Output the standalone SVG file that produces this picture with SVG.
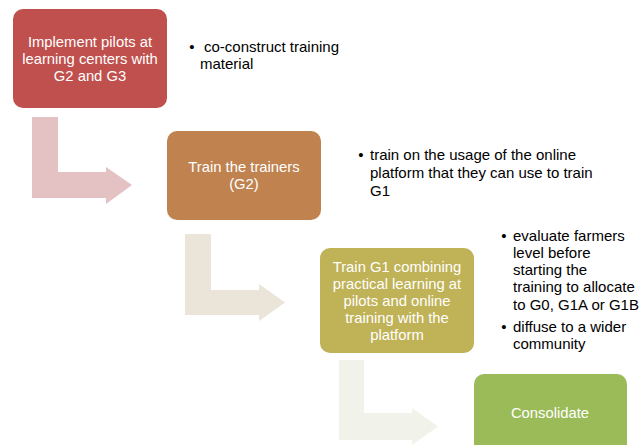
<svg xmlns="http://www.w3.org/2000/svg" width="644" height="445" viewBox="0 0 644 445">
<style>
.box{stroke:none}
.bt{font-family:"Liberation Sans",Arial,sans-serif;font-size:14.8px;fill:#FFFFFF;text-anchor:middle}
.bl{font-family:"Liberation Sans",Arial,sans-serif;font-size:15px;fill:#000000}
</style>
<rect width="644" height="445" fill="#FFFFFF"/>
<g id="connectors">
<path d="M32,117 H58 V172 H106 V167 L132,185 L106,204 V198 H32 Z" fill="#E4C1C3"/>
<path d="M185,234 H211 V290 H259 V284 L285,302.5 L259,321 V315 H185 Z" fill="#EBE5D9"/>
<path d="M339,360 H364 V413 H412 V408 L438,426.5 L412,445 V440 H339 Z" fill="#F1F3EA"/>
</g>
<g id="node1">
<rect class="box" x="13" y="9" width="154" height="99" rx="10" fill="#C0504D"/>
<text class="bt"><tspan x="90" y="47">Implement pilots at</tspan><tspan x="90" y="64">learning centers with</tspan><tspan x="90" y="81">G2 and G3</tspan></text>
</g>
<g id="node2">
<rect class="box" x="167" y="131" width="154" height="89" rx="10" fill="#C0834F"/>
<text class="bt"><tspan x="244" y="172">Train the trainers</tspan><tspan x="244" y="189">(G2)</tspan></text>
</g>
<g id="node3">
<rect class="box" x="320" y="248" width="154" height="105" rx="10" fill="#BFB257"/>
<text class="bt"><tspan x="397" y="272">Train G1 combining</tspan><tspan x="397" y="289">practical learning at</tspan><tspan x="397" y="306">pilots and online</tspan><tspan x="397" y="323">training with the</tspan><tspan x="397" y="340">platform</tspan></text>
</g>
<g id="node4">
<rect class="box" x="474" y="374" width="153" height="80" rx="10" fill="#9BBB59"/>
<text class="bt" x="550" y="418">Consolidate</text>
</g>
<g id="notes1">
<text class="bl" x="192" y="52" text-anchor="middle">•</text>
<text class="bl"><tspan x="204" y="52">co-construct training</tspan><tspan x="200" y="69">material</tspan></text>
</g>
<g id="notes2">
<text class="bl" x="361" y="160" text-anchor="middle">•</text>
<text class="bl"><tspan x="370" y="160">train on the usage of the online</tspan><tspan x="370" y="178">platform that they can use to train</tspan><tspan x="370" y="196">G1</tspan></text>
</g>
<g id="notes3">
<text class="bl" x="504" y="241" text-anchor="middle">•</text>
<text class="bl"><tspan x="513" y="241">evaluate farmers</tspan><tspan x="513" y="258">level before</tspan><tspan x="513" y="275">starting the</tspan><tspan x="513" y="292">training to allocate</tspan><tspan x="513" y="310">to G0, G1A or G1B</tspan></text>
<text class="bl" x="504" y="332" text-anchor="middle">•</text>
<text class="bl"><tspan x="513" y="332">diffuse to a wider</tspan><tspan x="513" y="349">community</tspan></text>
</g>
</svg>
